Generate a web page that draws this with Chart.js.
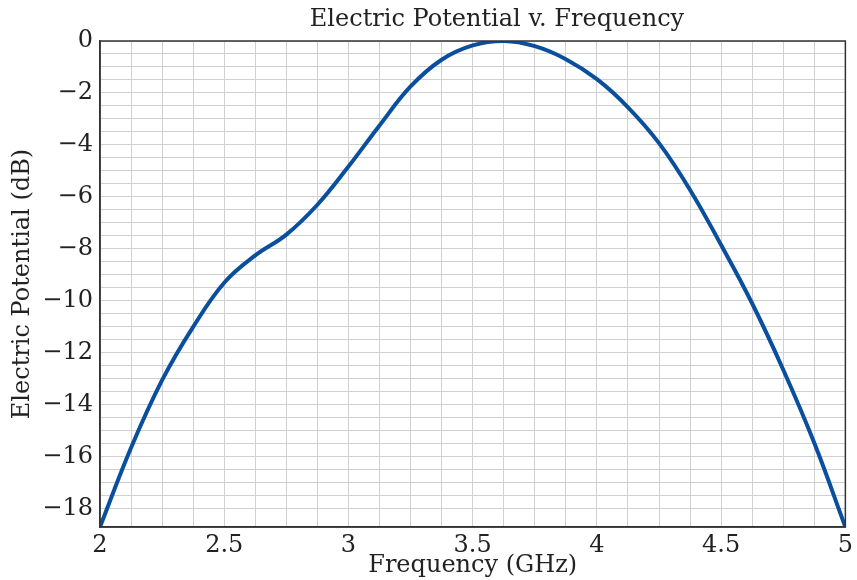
<!DOCTYPE html>
<html>
<head>
<meta charset="utf-8">
<script src="https://cdn.jsdelivr.net/npm/chart.js@4"></script>
<style>
  html, body { margin: 0; padding: 0; background: #fff; }
  #wrap { width: 857px; height: 580px; }
</style>
</head>
<body>
<div id="wrap"><canvas id="potentialChart" width="857" height="580"></canvas></div>
<script>
// frequency samples (GHz) and electric potential (dB)
const frequency = [2.0, 2.125, 2.25, 2.375, 2.5, 2.625, 2.75, 2.875, 3.0, 3.125, 3.25, 3.375, 3.5,
  3.625, 3.75, 3.875, 4.0, 4.125, 4.25, 4.375, 4.5, 4.625, 4.75, 4.875, 5.0];
const potential = [-18.7, -15.65, -13.05, -11.0, -9.3, -8.25, -7.45, -6.3, -4.83, -3.25, -1.75, -0.72, -0.17,
  0, -0.2, -0.7, -1.47, -2.55, -3.93, -5.73, -7.85, -10.1, -12.65, -15.47, -18.7];

const xTickLabels = [2, 2.5, 3, 3.5, 4, 4.5, 5];
const yTickLabels = [0, -2, -4, -6, -8, -10, -12, -14, -16, -18];

const chartTitle = 'Electric Potential v. Frequency';
const xTitle = 'Frequency (GHz)';
const yTitle = 'Electric Potential (dB)';

const FONT = "'DejaVu Serif', 'Liberation Serif', serif";
const TEXT = '#222';

function fmt(v) {
  return v < 0 ? '\u2212' + Math.abs(v) : String(v);
}

// box around the plot + centred title
const frameAndTitle = {
  id: 'frameAndTitle',
  afterDraw(chart) {
    const ctx = chart.ctx;
    const a = chart.chartArea;
    ctx.save();
    ctx.strokeStyle = '#333';
    ctx.lineWidth = 1.5;
    ctx.strokeRect(a.left, a.top, a.right - a.left, a.bottom - a.top);
    ctx.fillStyle = TEXT;
    ctx.font = '24px ' + FONT;
    ctx.textAlign = 'center';
    ctx.textBaseline = 'middle';
    ctx.fillText(chartTitle, 497, 20);
    ctx.restore();
  }
};

const points = frequency.map(function (f, i) {
  return { x: f, y: potential[i] };
});

new Chart(document.getElementById('potentialChart'), {
  type: 'line',
  data: {
    datasets: [{
      data: points,
      borderColor: '#0a4f9d',
      borderWidth: 4,
      pointRadius: 0,
      tension: 0.4,
      fill: false
    }]
  },
  options: {
    responsive: false,
    animation: false,
    layout: { padding: { top: 41, right: 9, left: 0, bottom: 0 } },
    plugins: { legend: { display: false }, tooltip: { enabled: false } },
    scales: {
      x: {
        type: 'linear',
        min: 2,
        max: 5,
        afterFit: function (scale) { scale.height = 53; },
        ticks: {
          stepSize: 0.125,
          autoSkip: false,
          maxRotation: 0,
          padding: 4,
          color: TEXT,
          font: { family: FONT, size: 24 },
          callback: function (v) {
            const hit = xTickLabels.find(function (t) { return Math.abs(t - v) < 1e-6; });
            return hit === undefined ? '' : fmt(hit);
          }
        },
        grid: { color: '#d0d0d0', lineWidth: 1, drawTicks: false },
        border: { color: '#333', width: 1.5 },
        title: {
          display: true,
          text: xTitle,
          color: TEXT,
          font: { family: FONT, size: 24 },
          padding: { top: 0, bottom: 0 }
        }
      },
      y: {
        min: -18.7,
        max: 0,
        afterFit: function (scale) { scale.width = 100; },
        ticks: {
          stepSize: 0.5,
          autoSkip: false,
          padding: 7,
          color: TEXT,
          font: { family: FONT, size: 24 },
          callback: function (v) {
            const hit = yTickLabels.find(function (t) { return Math.abs(t - v) < 1e-6; });
            return hit === undefined ? '' : fmt(hit);
          }
        },
        grid: { color: '#d0d0d0', lineWidth: 1, drawTicks: false },
        border: { color: '#333', width: 1.5 },
        title: {
          display: true,
          text: yTitle,
          color: TEXT,
          font: { family: FONT, size: 24 },
          padding: { top: 8, bottom: 0 }
        }
      }
    }
  },
  plugins: [frameAndTitle]
});
</script>
</body>
</html>
